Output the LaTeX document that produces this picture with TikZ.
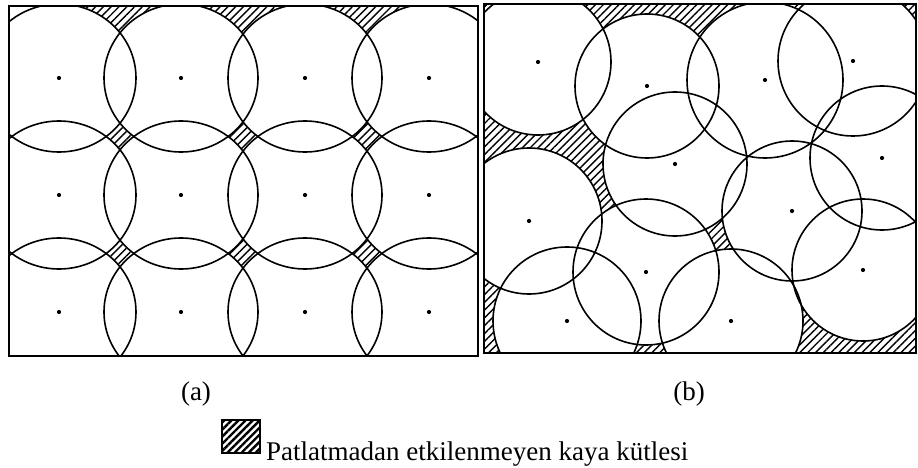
\documentclass[tikz,border=0pt]{standalone}
\usepackage{fontspec}
\setmainfont{Liberation Serif}
\usetikzlibrary{patterns.meta}
\begin{document}
\begin{tikzpicture}[x=1pt,y=-1pt,
  circ/.style={line width=1.6pt},
  frame/.style={line width=1.9pt},
  dotmark/.style={circle, fill=black, inner sep=0pt, minimum size=4.2pt},
  hatch/.style={pattern={Lines[angle=45,distance=5.5pt,line width=1.4pt]}},
  lbl/.style={font=\fontsize{27}{30}\selectfont, inner sep=0pt, anchor=base}]
\useasboundingbox (0,0) rectangle (918,468);
% ---------------- panel (a) ----------------
\coordinate (aNW) at (9,6);
\coordinate (aSE) at (478,356);
\begin{scope}
  \clip (aNW) rectangle (aSE);
  \foreach \mx in {120,243,367} {
    \fill[hatch] (\mx-45,6) -- (\mx+45,6) -- (\mx,38) -- cycle;
    \foreach \my in {136.5,253.5}
      \fill[hatch] (\mx-18,\my) -- (\mx,\my-18) -- (\mx+18,\my) -- (\mx,\my+18) -- cycle;
  }
  \foreach \my in {136.5,253.5}
    \fill[hatch] (478,\my-16) -- (462,\my) -- (478,\my+16) -- cycle;
  \foreach \cx [count=\i] in {59,181,305,429}
    \foreach \cy [count=\j] in {78,195,312}
      \fill[white] (\cx,\cy) ellipse [x radius=77, y radius=74];
  \foreach \cx [count=\i] in {59,181,305,429}
    \foreach \cy [count=\j] in {78,195,312}
      \draw[circ] (\cx,\cy) ellipse [x radius=77, y radius=74];
\end{scope}
\foreach \cx [count=\i] in {59,181,305,429}
  \foreach \cy [count=\j] in {78,195,312}
    \node[dotmark] (a\i\j) at (\cx,\cy) {};
\draw[frame] (aNW) rectangle (aSE);
% ---------------- panel (b) ----------------
\coordinate (bNW) at (484,4);
\coordinate (bSE) at (916,353);
\begin{scope}
  \clip (bNW) rectangle (bSE);
  \fill[hatch] (bNW) rectangle (bSE);
  \foreach \cx/\cy/\r in {538/62/73, 647/86/72, 675/164/72, 765/80/78, 853/61/75, 882/158/72,
                          529/221/73, 646/272/73, 567/321/74, 792/211/70, 863/270/71, 731/321/72}
    \fill[white] (\cx,\cy) circle [radius=\r];
  \foreach \cx/\cy/\r in {538/62/73, 647/86/72, 675/164/72, 765/80/78, 853/61/75, 882/158/72,
                          529/221/73, 646/272/73, 567/321/74, 792/211/70, 863/270/71, 731/321/72}
    \draw[circ] (\cx,\cy) circle [radius=\r];
\end{scope}
\foreach \cx/\cy [count=\i] in {538/62, 647/86, 675/164, 765/80, 853/61, 882/158,
                                529/221, 646/272, 567/321, 792/211, 863/270, 731/321}
  \node[dotmark] (b\i) at (\cx,\cy) {};
\draw[frame] (bNW) rectangle (bSE);
% ---------------- labels ----------------
\node[lbl] (la) at (196,400) {(a)};
\node[lbl] (lb) at (689,400) {(b)};
\draw[pattern={Lines[angle=45,distance=5pt,line width=2.4pt]}, line width=2.2pt] (222,420) rectangle (260,453);
\node[lbl, anchor=base west] (leg) at (266,460) {Patlatmadan etkilenmeyen kaya kütlesi};
\end{tikzpicture}
\end{document}
